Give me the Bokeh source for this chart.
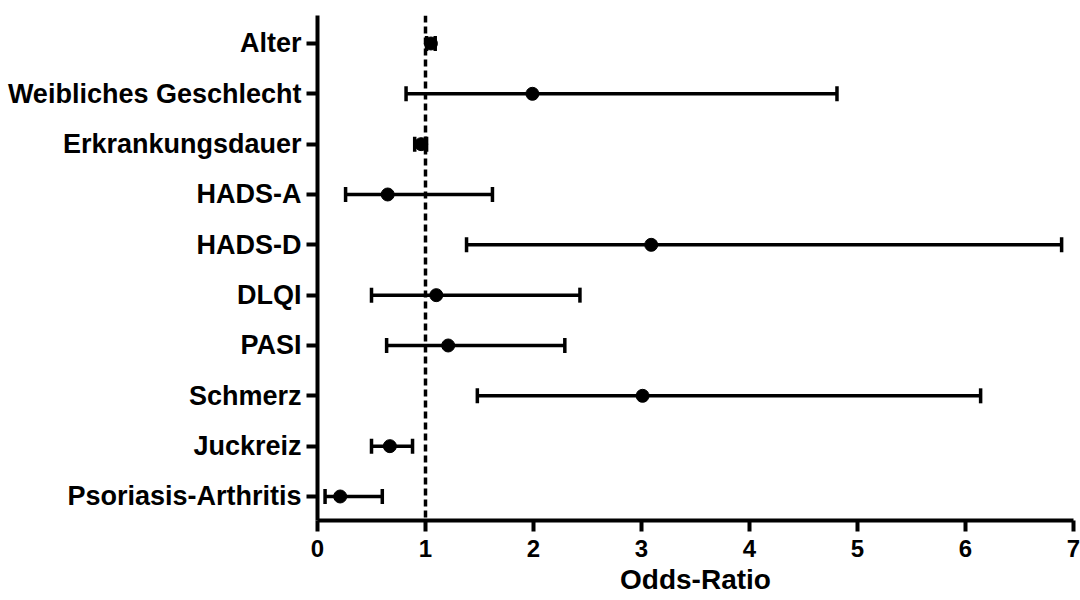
from bokeh.plotting import figure
from bokeh.models import ColumnDataSource, Whisker, TeeHead, Span, Range1d, FixedTicker
from bokeh.embed import file_html
from bokeh.resources import INLINE

categories = ["Alter", "Weibliches Geschlecht", "Erkrankungsdauer", "HADS-A", "HADS-D",
              "DLQI", "PASI", "Schmerz", "Juckreiz", "Psoriasis-Arthritis"]
odds_ratio = [1.05, 1.99, 0.96, 0.65, 3.09, 1.10, 1.21, 3.01, 0.67, 0.21]
ci_lower = [1.01, 0.82, 0.90, 0.26, 1.38, 0.50, 0.64, 1.48, 0.50, 0.07]
ci_upper = [1.09, 4.81, 1.01, 1.62, 6.89, 2.43, 2.29, 6.14, 0.88, 0.60]
x_ticks = [0, 1, 2, 3, 4, 5, 6, 7]

n = len(categories)
ypos = [n - i for i in range(n)]

src = ColumnDataSource(dict(y=ypos, orr=odds_ratio, lo=ci_lower, hi=ci_upper, cat=categories))

p = figure(width=1080, height=600, output_backend="svg", toolbar_location=None,
           x_range=Range1d(0, 7), y_range=Range1d(0.523, 10.556))
p.min_border_left = 317
p.min_border_right = 7
p.min_border_top = 15
p.min_border_bottom = 80
p.outline_line_color = None
p.xgrid.visible = False
p.ygrid.visible = False
p.background_fill_color = "white"

font = "Liberation Sans"

# reference line at OR = 1
p.add_layout(Span(location=1, dimension="height", line_color="black",
                  line_width=3.5, line_dash="7 4"))

w = Whisker(base="y", lower="lo", upper="hi", dimension="width", source=src,
            line_width=3.5, line_color="black",
            lower_head=TeeHead(size=15, line_width=3.5, line_color="black"),
            upper_head=TeeHead(size=15, line_width=3.5, line_color="black"))
p.add_layout(w)

p.scatter("orr", "y", source=src, size=13, color="black")

# x axis
p.xaxis.ticker = FixedTicker(ticks=x_ticks)
p.xaxis.minor_tick_line_color = None
p.xaxis.axis_line_width = 4
p.xaxis.major_tick_line_width = 4
p.xaxis.major_tick_out = 11
p.xaxis.major_tick_in = 0
p.xaxis.major_label_text_font = font
p.xaxis.major_label_text_font_style = "bold"
p.xaxis.major_label_text_font_size = "24px"
p.xaxis.major_label_text_color = "black"
p.xaxis.major_label_standoff = 8
p.xaxis.axis_label = "Odds-Ratio"
p.xaxis.axis_label_text_font = font
p.xaxis.axis_label_text_font_style = "bold"
p.xaxis.axis_label_text_font_size = "28px"
p.xaxis.axis_label_text_color = "black"
p.xaxis.axis_label_standoff = 4

# y axis
p.yaxis.ticker = FixedTicker(ticks=ypos)
p.yaxis.major_label_overrides = {y: c for y, c in zip(ypos, categories)}
p.yaxis.minor_tick_line_color = None
p.yaxis.axis_line_width = 4
p.yaxis.major_tick_line_width = 4
p.yaxis.major_tick_out = 11
p.yaxis.major_tick_in = 0
p.yaxis.major_label_text_font = font
p.yaxis.major_label_text_font_style = "bold"
p.yaxis.major_label_text_font_size = "27px"
p.yaxis.major_label_text_color = "black"
p.yaxis.major_label_standoff = 5

open("out.html", "w").write(file_html(p, INLINE))
